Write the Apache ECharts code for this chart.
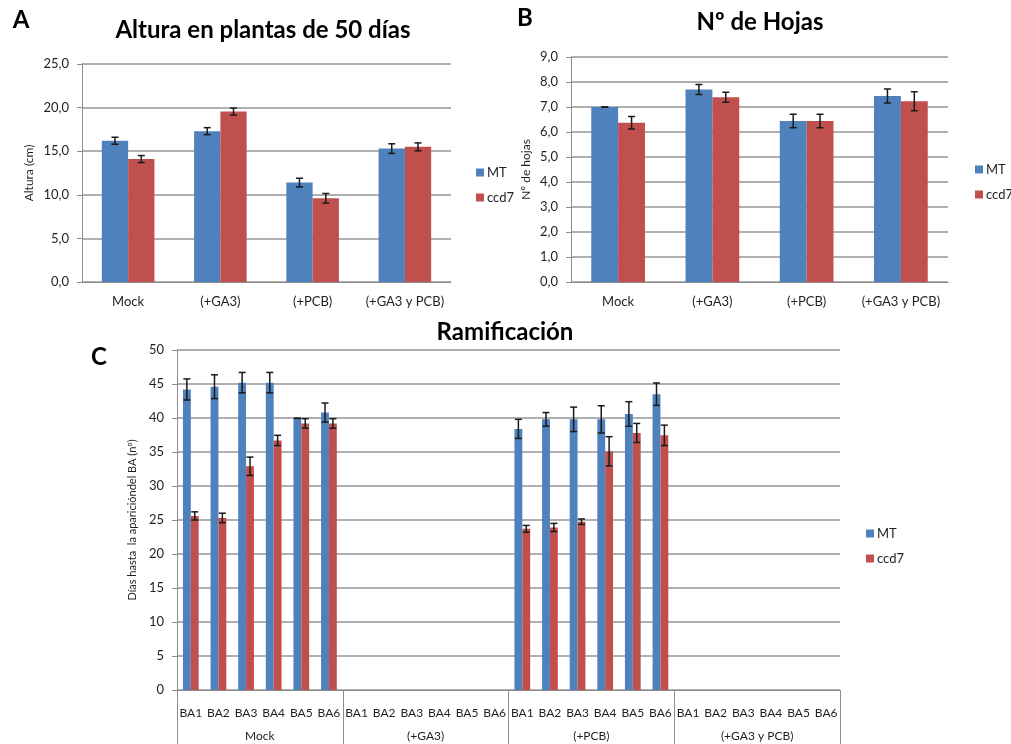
<!DOCTYPE html>
<html>
<head>
<meta charset="utf-8">
<script src="https://cdn.jsdelivr.net/npm/echarts@6/dist/echarts.min.js"></script>
<style>
  html, body { margin: 0; padding: 0; background: #fff; }
  #chart { width: 1011px; height: 744px; }
</style>
</head>
<body>
<div id="chart"></div>
<script>
// ---- data ----
const seriesNames = ['MT', 'ccd7'];
const treatments = ['Mock', '(+GA3)', '(+PCB)', '(+GA3 y PCB)'];

// Panel A: plant height at 50 days (cm)
const heightMT = [16.2, 17.3, 11.4, 15.3];
const heightMTErr = [0.4, 0.4, 0.5, 0.55];
const heightCcd7 = [14.1, 19.55, 9.6, 15.5];
const heightCcd7Err = [0.4, 0.4, 0.55, 0.45];

// Panel B: number of leaves
const leavesMT = [7.0, 7.7, 6.44, 7.44];
const leavesMTErr = [0.0, 0.2, 0.27, 0.28];
const leavesCcd7 = [6.37, 7.39, 6.44, 7.23];
const leavesCcd7Err = [0.25, 0.2, 0.27, 0.38];

// Panel C: days until axillary bud (BA) appearance
const buds = ['BA1', 'BA2', 'BA3', 'BA4', 'BA5', 'BA6'];
const branchMT = [
  44.2, 44.6, 45.2, 45.2, 39.95, 40.8,
  null, null, null, null, null, null,
  38.4, 39.8, 39.8, 39.8, 40.6, 43.5,
  null, null, null, null, null, null
];
const branchMTErr = [
  1.55, 1.75, 1.5, 1.5, 0.0, 1.4,
  null, null, null, null, null, null,
  1.4, 1.0, 1.8, 2.0, 1.8, 1.65,
  null, null, null, null, null, null
];
const branchCcd7 = [
  25.6, 25.3, 32.9, 36.7, 39.2, 39.2,
  null, null, null, null, null, null,
  23.7, 23.9, 24.75, 35.1, 37.8, 37.45,
  null, null, null, null, null, null
];
const branchCcd7Err = [
  0.6, 0.7, 1.35, 0.75, 0.7, 0.7,
  null, null, null, null, null, null,
  0.5, 0.6, 0.4, 2.15, 1.4, 1.5,
  null, null, null, null, null, null
];

// ---- styling ----
const FONT = 'Lato, "Open Sans", sans-serif';
const BLUE = '#4F81BD';
const RED = '#C0504D';
const GRID_LINE = '#b0b0b0';
const TEXT = '#1f1f1f';
const GAP = 0.43; // share of category width left empty around each bar pair

const budLabels = [];
treatments.forEach(() => buds.forEach(b => budLabels.push(b)));

function comma1(v) { return v.toFixed(1).replace('.', ','); }

// error bars for one of the two side-by-side bars (side: -1 left, +1 right)
function errorBars(side) {
  return function (params, api) {
    const i = api.value(0), v = api.value(1), e = api.value(2);
    const cw = api.size([1, 0])[0];
    const bw = cw * (1 - GAP) / 2;
    const cx = api.coord([i, v])[0] + side * bw / 2;
    const yTop = api.coord([i, v + e])[1];
    const yBot = api.coord([i, v - e])[1];
    const half = 3.5;
    const style = { stroke: '#1a1a1a', lineWidth: 1.5 };
    return {
      type: 'group',
      children: [
        { type: 'line', shape: { x1: cx, y1: yTop, x2: cx, y2: yBot }, style },
        { type: 'line', shape: { x1: cx - half, y1: yTop, x2: cx + half, y2: yTop }, style },
        { type: 'line', shape: { x1: cx - half, y1: yBot, x2: cx + half, y2: yBot }, style }
      ]
    };
  };
}

function errData(values, errs) {
  const out = [];
  values.forEach((v, i) => { if (v != null) out.push([i, v, errs[i]]); });
  return out;
}

function valueAxis(gridIndex, max, interval, fmt, name, nameGap, nameSize) {
  return {
    type: 'value', gridIndex, min: 0, max, interval,
    axisLine: { show: true, lineStyle: { color: '#8c8c8c', width: 1 } },
    axisTick: { show: true, inside: false, length: 5, lineStyle: { color: '#8c8c8c' } },
    axisLabel: { formatter: fmt, color: TEXT, fontFamily: FONT, fontSize: 13, margin: 13 },
    splitLine: { show: true, lineStyle: { color: GRID_LINE, width: 2 } },
    name, nameLocation: 'middle', nameRotate: 90, nameGap,
    nameTextStyle: { color: TEXT, fontFamily: FONT, fontSize: nameSize }
  };
}

function catAxis(gridIndex, data, fontSize, margin) {
  return {
    type: 'category', gridIndex, data,
    axisLine: { show: true, lineStyle: { color: '#8c8c8c', width: 1 } },
    axisTick: { show: false },
    axisLabel: { color: TEXT, fontFamily: FONT, fontSize, margin, interval: 0 },
    splitLine: { show: false }
  };
}

function barPair(xi, yi, mt, ccd7, mtErr, ccd7Err, catGap) {
  return [
    { name: seriesNames[0], type: 'bar', xAxisIndex: xi, yAxisIndex: yi, data: mt,
      barGap: '0%', barCategoryGap: catGap, itemStyle: { color: BLUE }, z: 2 },
    { name: seriesNames[1], type: 'bar', xAxisIndex: xi, yAxisIndex: yi, data: ccd7,
      barGap: '0%', barCategoryGap: catGap, itemStyle: { color: RED }, z: 2 },
    { type: 'custom', xAxisIndex: xi, yAxisIndex: yi, renderItem: errorBars(-1),
      data: errData(mt, mtErr), encode: { x: 0, y: 1 }, z: 5, silent: true },
    { type: 'custom', xAxisIndex: xi, yAxisIndex: yi, renderItem: errorBars(1),
      data: errData(ccd7, ccd7Err), encode: { x: 0, y: 1 }, z: 5, silent: true }
  ];
}

function legendAt(left, top) {
  return {
    data: seriesNames, orient: 'vertical', left, top,
    icon: 'rect', itemWidth: 8, itemHeight: 8, itemGap: 12,
    selectedMode: false,
    textStyle: { color: TEXT, fontFamily: FONT, fontSize: 13, padding: [0, 0, 0, -2] }
  };
}

function heading(text, x, y, size) {
  return {
    type: 'text', x, y,
    style: { text, fill: '#000', font: 'bold ' + size + 'px ' + FONT,
             align: 'center', verticalAlign: 'middle' }
  };
}

const chart = echarts.init(document.getElementById('chart'), null, { renderer: 'canvas' });

chart.setOption({
  animation: false,
  backgroundColor: '#fff',
  graphic: [
    heading('A', 21, 20, 24),
    heading('Altura en plantas de 50 días', 263, 30, 24),
    heading('B', 525, 18, 24),
    heading('Nº de Hojas', 760, 22, 24),
    heading('C', 99, 357, 24),
    heading('Ramificación', 505, 332, 24)
  ],
  legend: [legendAt(471, 161), legendAt(970, 158), legendAt(861, 522)],
  grid: [
    { left: 82, right: 560, top: 64, bottom: 462 },
    { left: 571, right: 63, top: 57, bottom: 462 },
    { left: 177, right: 171, top: 350, bottom: 54 }
  ],
  xAxis: [
    catAxis(0, treatments, 13, 13),
    catAxis(1, treatments, 13, 13),
    catAxis(2, budLabels, 12, 17),
    {
      // group level of the two-row category axis
      type: 'category', gridIndex: 2, data: treatments, position: 'bottom',
      axisLine: { show: false },
      axisTick: { show: true, length: 54, interval: 0, lineStyle: { color: '#8c8c8c' } },
      axisLabel: { color: TEXT, fontFamily: FONT, fontSize: 12, margin: 40, interval: 0 },
      splitLine: { show: false }
    }
  ],
  yAxis: [
    valueAxis(0, 25, 5, comma1, 'Altura (cm)', 47, 12),
    valueAxis(1, 9, 1, comma1, 'Nº de hojas', 39, 12),
    valueAxis(2, 50, 5, v => String(v), 'Días hasta  la aparicióndel BA (nº)', 32, 11)
  ],
  series: [
    ...barPair(0, 0, heightMT, heightCcd7, heightMTErr, heightCcd7Err, '43%'),
    ...barPair(1, 1, leavesMT, leavesCcd7, leavesMTErr, leavesCcd7Err, '43%'),
    ...barPair(2, 2, branchMT, branchCcd7, branchMTErr, branchCcd7Err, '43%')
  ]
});
</script>
</body>
</html>
